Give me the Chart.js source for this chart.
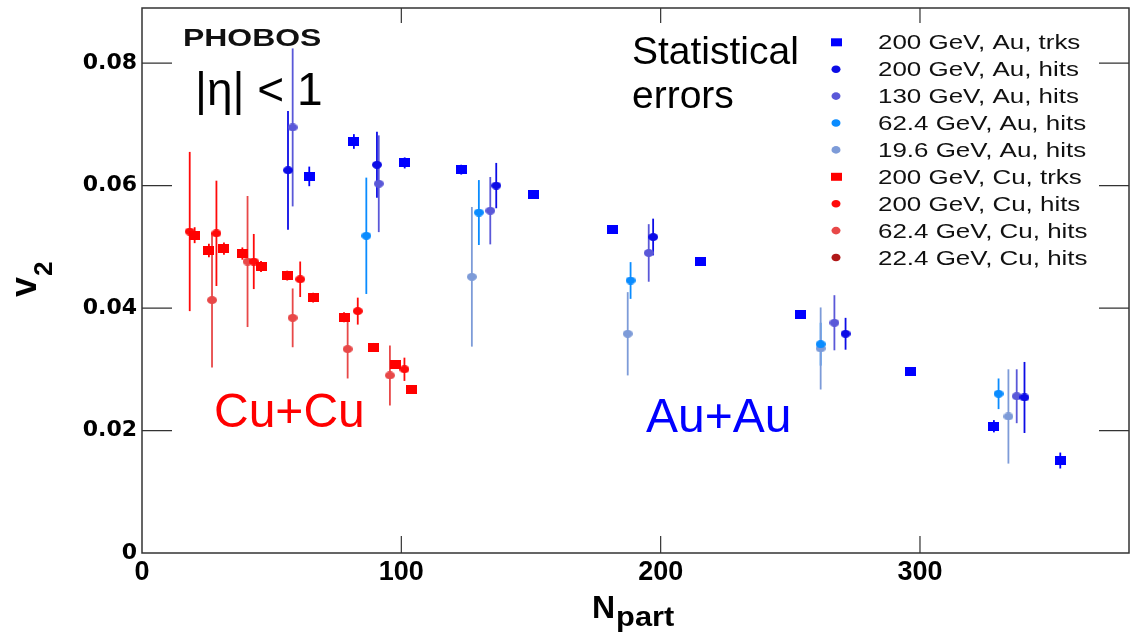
<!DOCTYPE html>
<html>
<head>
<meta charset="utf-8">
<script src="https://cdn.jsdelivr.net/npm/chart.js@4.4.0/dist/chart.umd.min.js"></script>
<style>
  html, body { margin: 0; padding: 0; background: #fff; }
</style>
</head>
<body>
<canvas id="chart" width="1135" height="635"></canvas>
<script>
// data
const npAuTrks = [354.1, 328.5, 296.5, 254.0, 215.2, 181.5, 151.0, 123.1, 101.3, 81.7, 64.5]
const v2AuTrks = [0.0151, 0.0207, 0.0297, 0.0390, 0.0476, 0.0529, 0.0586, 0.0626, 0.0637, 0.0672, 0.0615]
const errAuTrks = [0.0013, 0.001, 0.0006, 0.0005, 0.0005, 0.0005, 0.0005, 0.0008, 0.0009, 0.0012, 0.0016]

const npAu200 = [340.3, 271.3, 197.1, 136.6, 90.6, 56.3]
const v2Au200 = [0.0254, 0.0358, 0.0516, 0.0600, 0.0634, 0.0625]
const errAu200 = [0.0058, 0.0026, 0.003, 0.0037, 0.0054, 0.0097]

const npAu130 = [337.3, 267.0, 195.4, 134.3, 91.3, 58.1]
const v2Au130 = [0.0256, 0.0376, 0.0490, 0.0559, 0.0603, 0.0695]
const errAu130 = [0.0044, 0.0045, 0.0047, 0.0055, 0.0079, 0.0129]

const npAu62 = [330.3, 261.7, 188.4, 129.9, 86.5]
const v2Au62 = [0.0260, 0.0341, 0.0445, 0.0556, 0.0518]
const errAu62 = [0.0025, 0.0035, 0.003, 0.0053, 0.0095]

const npAu19 = [334.1, 261.7, 187.3, 127.2]
const v2Au19 = [0.0223, 0.0334, 0.0358, 0.0451]
const errAu19 = [0.0077, 0.0067, 0.0068, 0.0114]

const npCuTrks = [104.1, 97.9, 89.3, 77.9, 66.0, 56.0, 45.9, 38.7, 31.6, 25.8, 20.3]
const v2CuTrks = [0.0267, 0.0308, 0.0336, 0.0385, 0.0417, 0.0453, 0.0468, 0.0489, 0.0497, 0.0494, 0.0519]
const errCuTrks = [0.0007, 0.0007, 0.0007, 0.0008, 0.0008, 0.0008, 0.0009, 0.001, 0.001, 0.0011, 0.0013]

const npCu200 = [101.2, 83.2, 61.0, 43.1, 28.7, 18.4]
const v2Cu200 = [0.0300, 0.0395, 0.0447, 0.0476, 0.0522, 0.0525]
const errCu200 = [0.0019, 0.0022, 0.0029, 0.0045, 0.0086, 0.013]

const npCu62 = [95.6, 79.3, 58.1, 40.7, 27.0]
const v2Cu62 = [0.0290, 0.0333, 0.0384, 0.0476, 0.0413]
const errCu62 = [0.0049, 0.0048, 0.0048, 0.0107, 0.011]

// no visible points for this one, only in the legend
const npCu22 = []
const v2Cu22 = []
const errCu22 = []

const seriesLabels = [
  '200 GeV, Au, trks', '200 GeV, Au, hits', '130 GeV, Au, hits', '62.4 GeV, Au, hits',
  '19.6 GeV, Au, hits', '200 GeV, Cu, trks', '200 GeV, Cu, hits', '62.4 GeV, Cu, hits',
  '22.4 GeV, Cu, hits'
]

// marker images (the original is a bit wider than tall)
function rectImg (color) {
  const c = document.createElement('canvas')
  c.width = 11; c.height = 9
  const g = c.getContext('2d')
  g.fillStyle = color
  g.fillRect(0, 0, 11, 9)
  return c
}
function dotImg (color) {
  const c = document.createElement('canvas')
  c.width = 10; c.height = 8
  const g = c.getContext('2d')
  g.fillStyle = color
  g.beginPath()
  g.ellipse(5, 4, 5, 4, 0, 0, 2 * Math.PI)
  g.fill()
  return c
}

function series (label, xs, ys, es, color, kind) {
  return {
    label: label,
    data: xs.map((x, i) => ({ x: x, y: ys[i], e: es[i] })),
    kind: kind,
    color: color,
    pointStyle: kind === 'trks' ? rectImg(color) : dotImg(color),
    showLine: false
  }
}

const datasets = [
  series(seriesLabels[0], npAuTrks, v2AuTrks, errAuTrks, '#0000ff', 'trks'),
  series(seriesLabels[1], npAu200, v2Au200, errAu200, '#0c0ce6', 'hits'),
  series(seriesLabels[2], npAu130, v2Au130, errAu130, '#5a58d8', 'hits'),
  series(seriesLabels[3], npAu62, v2Au62, errAu62, '#0a8cff', 'hits'),
  series(seriesLabels[4], npAu19, v2Au19, errAu19, '#7d9bd8', 'hits'),
  series(seriesLabels[5], npCuTrks, v2CuTrks, errCuTrks, '#ff0000', 'trks'),
  series(seriesLabels[6], npCu200, v2Cu200, errCu200, '#ff0a0a', 'hits'),
  series(seriesLabels[7], npCu62, v2Cu62, errCu62, '#e84848', 'hits'),
  series(seriesLabels[8], npCu22, v2Cu22, errCu22, '#b01818', 'hits')
]

function txt (ctx, s, x, y, font, color, sx) {
  ctx.save()
  ctx.translate(x, y)
  ctx.scale(sx || 1, 1)
  ctx.font = font
  ctx.fillStyle = color
  ctx.textBaseline = 'alphabetic'
  ctx.textAlign = 'left'
  ctx.fillText(s, 0, 0)
  ctx.restore()
}

const errorBars = {
  id: 'errorBars',
  beforeDatasetsDraw (chart) {
    const ctx = chart.ctx
    const ys = chart.scales.y
    ctx.save()
    ctx.lineWidth = 1.8
    chart.data.datasets.forEach((ds, i) => {
      const meta = chart.getDatasetMeta(i)
      ctx.strokeStyle = ds.color
      meta.data.forEach((pt, j) => {
        const d = ds.data[j]
        ctx.beginPath()
        ctx.moveTo(pt.x, ys.getPixelForValue(d.y + d.e))
        ctx.lineTo(pt.x, ys.getPixelForValue(d.y - d.e))
        ctx.stroke()
      })
    })
    ctx.restore()
  }
}

const frame = {
  id: 'frame',
  afterDraw (chart) {
    const ctx = chart.ctx
    const a = chart.chartArea
    const xs = chart.scales.x
    const ys = chart.scales.y
    ctx.save()
    ctx.strokeStyle = '#333'
    ctx.lineWidth = 1.5
    ctx.strokeRect(a.left, a.top, a.right - a.left, a.bottom - a.top)
    ctx.lineWidth = 1.2
    ctx.beginPath()
    xs.ticks.forEach(t => {
      if (t.value === 0) return
      const px = xs.getPixelForValue(t.value)
      ctx.moveTo(px, a.bottom); ctx.lineTo(px, a.bottom - 17)
      ctx.moveTo(px, a.top); ctx.lineTo(px, a.top + 15)
    })
    ys.ticks.forEach(t => {
      if (t.value === 0) return
      const py = ys.getPixelForValue(t.value)
      ctx.moveTo(a.left, py); ctx.lineTo(a.left + 30, py)
      ctx.moveTo(a.right, py); ctx.lineTo(a.right - 30, py)
    })
    ctx.stroke()
    ctx.restore()

    // axis titles
    ctx.save()
    ctx.translate(36, 297)
    ctx.rotate(-Math.PI / 2)
    ctx.font = 'bold 36px "Liberation Sans"'
    const vw = ctx.measureText('v').width
    txt(ctx, 'v', 0, 0, 'bold 36px "Liberation Sans"', '#000')
    txt(ctx, '2', vw + 1, 16, 'bold 26px "Liberation Sans"', '#000')
    ctx.restore()

    ctx.save()
    ctx.font = 'bold 32px "Liberation Sans"'
    const nw = ctx.measureText('N').width
    txt(ctx, 'N', 592, 618, 'bold 32px "Liberation Sans"', '#000')
    txt(ctx, 'part', 592 + nw + 1, 626, 'bold 28px "Liberation Sans"', '#000', 1.1)
    ctx.restore()

    // annotations
    txt(ctx, 'PHOBOS', 183, 46, 'bold 24px "Liberation Sans"', '#111', 1.33)
    txt(ctx, '|η| < 1', 195, 105, '46px "Liberation Sans"', '#000')
    txt(ctx, 'Statistical', 632, 64, '39px "Liberation Sans"', '#000')
    txt(ctx, 'errors', 632, 108, '39px "Liberation Sans"', '#000')
    txt(ctx, 'Cu+Cu', 214, 427, '48px "Liberation Sans"', '#ff0000')
    txt(ctx, 'Au+Au', 646, 432, '48px "Liberation Sans"', '#0000ff')

    // legend
    chart.data.datasets.forEach((ds, i) => {
      const cy = 42.3 + i * 26.9
      ctx.save()
      ctx.fillStyle = ds.color
      if (ds.kind === 'trks') {
        ctx.fillRect(831, cy - 4, 11, 8)
      } else {
        ctx.beginPath()
        ctx.ellipse(836, cy, 4.5, 3.8, 0, 0, 2 * Math.PI)
        ctx.fill()
      }
      ctx.restore()
      txt(ctx, ds.label, 878, cy + 7, '19.5px "Liberation Sans"', '#111', 1.33)
    })
  }
}

new Chart(document.getElementById('chart'), {
  type: 'scatter',
  data: { datasets: datasets },
  options: {
    responsive: false,
    animation: false,
    devicePixelRatio: 1,
    layout: { padding: { left: 0, top: 8, right: 6, bottom: 0 } },
    plugins: { legend: { display: false }, tooltip: { enabled: false } },
    scales: {
      x: {
        type: 'linear',
        min: 0,
        max: 380.6,
        afterFit (s) {
          s.height = 82
          s.paddingLeft = 0
          s.paddingRight = 0
        },
        grid: { display: false, drawTicks: false },
        border: { display: false },
        ticks: {
          stepSize: 100,
          includeBounds: false,
          maxRotation: 0,
          padding: 3,
          color: '#000',
          font: { family: 'Liberation Sans', weight: 'bold', size: 27 }
        }
      },
      y: {
        min: 0,
        max: 0.089,
        afterFit (s) {
          s.width = 142
          s.paddingTop = 0
          s.paddingBottom = 0
        },
        grid: { display: false, drawTicks: false },
        border: { display: false },
        ticks: {
          stepSize: 0.02,
          includeBounds: false,
          padding: 5,
          color: '#000',
          font: { family: 'DejaVu Sans', weight: 'bold', size: 22 },
          callback: v => (v === 0 ? '0' : v.toFixed(2))
        }
      }
    }
  },
  plugins: [errorBars, frame]
})
</script>
</body>
</html>
